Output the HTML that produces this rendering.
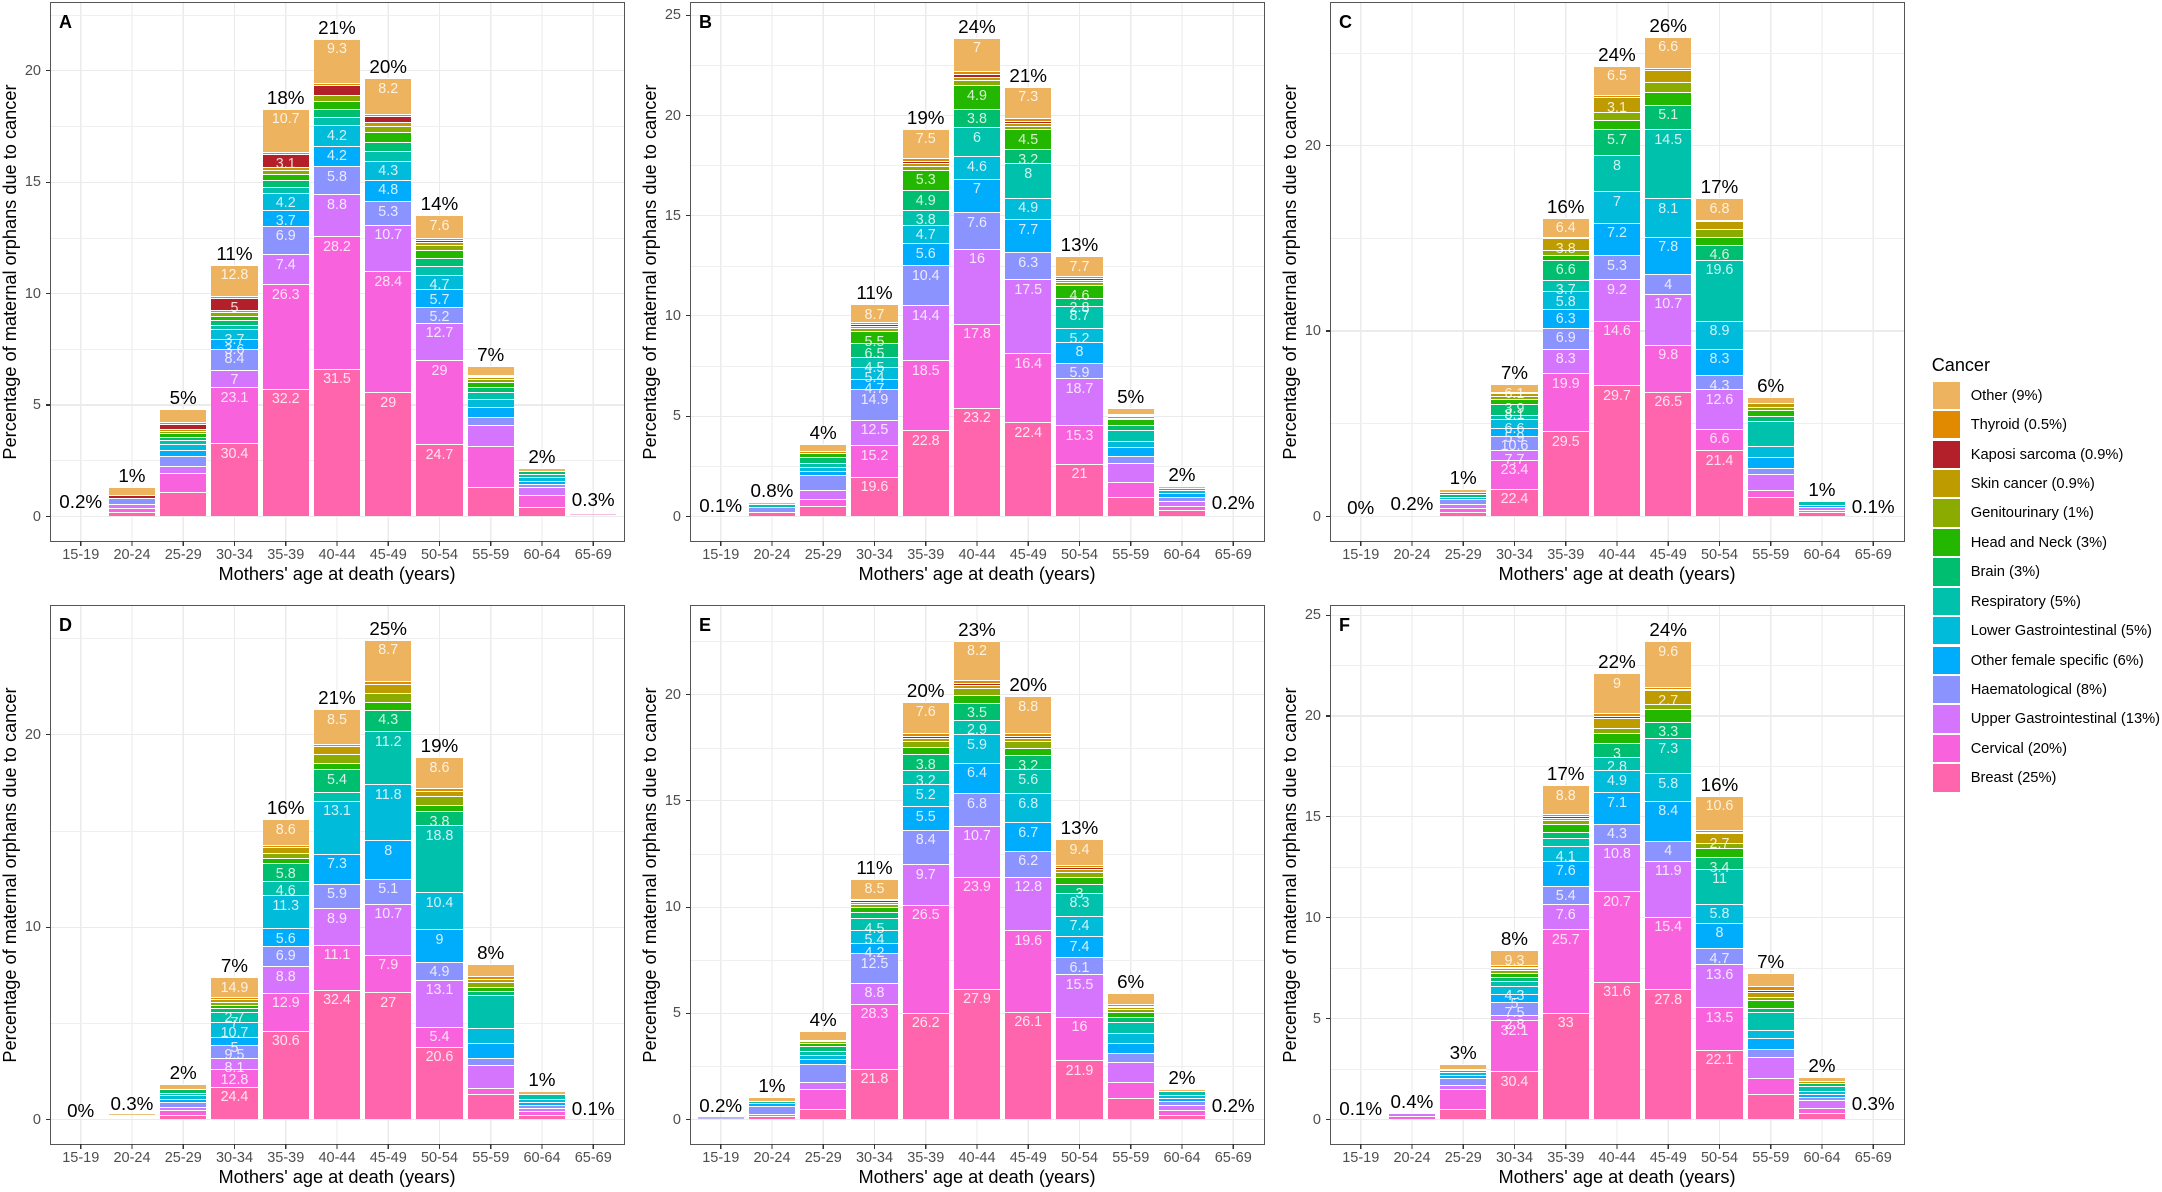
<!DOCTYPE html>
<html><head><meta charset="utf-8">
<style>
html,body{margin:0;padding:0}
body{width:2162px;height:1192px;position:relative;overflow:hidden;background:#fff;font-family:"Liberation Sans",Arial,sans-serif;color:#000}
.pn{position:absolute;width:574px;height:539px}
.pa{position:absolute;left:0;top:0;width:574px;height:539px;overflow:hidden;background:repeating-linear-gradient(90deg,transparent 0,transparent 30.15px,#ebebeb 30.15px,#ebebeb 31.35px,transparent 31.35px,transparent 51.25px)}
.bd{position:absolute;left:-0.5px;top:-0.5px;width:573px;height:538px;border:1px solid #555}
.g{position:absolute;left:0;width:574px;height:1.1px;background:#ebebeb}
.m{height:.6px;background:#efefef}
.tk{position:absolute;left:-4.5px;width:4.5px;height:1.1px;background:#333}
.tl{position:absolute;right:583px;font-size:14.5px;line-height:16px;color:#4d4d4d;text-align:right;white-space:nowrap}
.xk{position:absolute;left:0;top:539px;width:574px;height:4.5px;background:repeating-linear-gradient(90deg,transparent 0,transparent 30.2px,#333 30.2px,#333 31.3px,transparent 31.3px,transparent 51.25px)}
.xl{position:absolute;left:5.125px;top:545.2px;display:flex;font-size:14.5px;line-height:16px;color:#4d4d4d}
.xl span{width:51.25px;text-align:center;flex:none}
.xt{position:absolute;left:0;width:574px;top:562px;text-align:center;font-size:18.2px;line-height:20px;white-space:nowrap}
.yt{position:absolute;left:-310.5px;top:259.5px;width:540px;height:20px;text-align:center;font-size:18.2px;line-height:20px;transform:rotate(-90deg);white-space:nowrap}
.lt{position:absolute;left:9px;top:9.75px;font-weight:bold;font-size:18px;line-height:20px}
.br{position:absolute;bottom:24.6px;width:46.1px;display:flex;flex-direction:column-reverse}
.br i{flex:1 1 0;min-height:0;border-top:1.5px solid #fff;display:flex;justify-content:center;align-items:flex-start;font-style:normal}
.br i.z{flex:0 0 0;border:0}
.br b{font-weight:normal;font-size:14.3px;line-height:16px;margin-top:1.5px;color:rgba(255,255,255,.82);z-index:1;white-space:nowrap}
.br p{position:absolute;bottom:100%;left:-30px;width:106px;margin:0;text-align:center;font-size:18.8px;line-height:22px;color:#000;white-space:nowrap}
.br u{position:absolute;left:0;width:100%;height:1.2px}
.br i:nth-of-type(1){background:#FF65AC}
.br i:nth-of-type(2){background:#F962DD}
.br i:nth-of-type(3){background:#D575FE}
.br i:nth-of-type(4){background:#8B93FF}
.br i:nth-of-type(5){background:#00ACFC}
.br i:nth-of-type(6){background:#00BBDA}
.br i:nth-of-type(7){background:#00C1AB}
.br i:nth-of-type(8){background:#00BE70}
.br i:nth-of-type(9){background:#24B700}
.br i:nth-of-type(10){background:#8CAB00}
.br i:nth-of-type(11){background:#BE9C00}
.br i:nth-of-type(12){background:#B3202A}
.br i:nth-of-type(13){background:#E18A00}
.br i:nth-of-type(14){background:#EDB35E}
.lk{position:absolute;left:1932.7px;width:27.3px;height:27.4px}
.ll{position:absolute;left:1970.7px;font-size:14.7px;line-height:18px;white-space:nowrap}
</style></head><body>

<!-- PANEL A -->
<div class="pn" style="left:50px;top:2px">
<div class="pa">
<div class="g m" style="top:458.4px"></div><div class="g m" style="top:347px"></div><div class="g m" style="top:235.6px"></div><div class="g m" style="top:124.2px"></div><div class="g m" style="top:12.8px"></div>
<div class="g" style="top:513.85px"></div><div class="g" style="top:402.45px"></div><div class="g" style="top:291.05px"></div><div class="g" style="top:179.65px"></div><div class="g" style="top:68.25px"></div>
<div class="br" style="left:7.7px;height:0"><p style="bottom:3px">0.2%</p></div>
<div class="br" style="left:58.95px;height:29px"><p>1%</p><i style="flex:15"></i><i style="flex:12"></i><i style="flex:14"></i><i style="flex:20"></i><i class="z"></i><i class="z"></i><i class="z"></i><i class="z"></i><i class="z"></i><i class="z"></i><i class="z"></i><i style="flex:8"></i><i class="z"></i><i style="flex:30"></i></div>
<div class="br" style="left:110.2px;height:107.2px"><p>5%</p><i style="flex:25"></i><i style="flex:19"></i><i style="flex:7"></i><i style="flex:10"></i><i style="flex:5"></i><i style="flex:5"></i><i style="flex:3"></i><i style="flex:3"></i><i style="flex:2.5"></i><i style="flex:1.5"></i><i style="flex:0.5"></i><i style="flex:5"></i><i style="flex:0.5"></i><i style="flex:13"></i></div>
<div class="br" style="left:161.45px;height:251.8px"><p>11%</p><i style="flex:30.4"><b>30.4</b></i><i style="flex:23.1"><b>23.1</b></i><i style="flex:7"><b>7</b></i><i style="flex:8.4"><b>8.4</b></i><i style="flex:3.6"><b>3.6</b></i><i style="flex:3.7"><b>3.7</b></i><i style="flex:1.5"></i><i style="flex:1.5"></i><i style="flex:1.5"></i><i style="flex:1"></i><i style="flex:0.3"></i><i style="flex:5"><b>5</b></i><i style="flex:0.2"></i><i style="flex:12.8"><b>12.8</b></i></div>
<div class="br" style="left:212.7px;height:407.5px"><p>18%</p><i style="flex:32.2"><b>32.2</b></i><i style="flex:26.3"><b>26.3</b></i><i style="flex:7.4"><b>7.4</b></i><i style="flex:6.9"><b>6.9</b></i><i style="flex:3.7"><b>3.7</b></i><i style="flex:4.2"><b>4.2</b></i><i style="flex:1.2"></i><i style="flex:1.5"></i><i style="flex:1.3"></i><i style="flex:0.8"></i><i style="flex:0.5"></i><i style="flex:3.1"><b>3.1</b></i><i style="flex:0.2"></i><i style="flex:10.7"><b>10.7</b></i></div>
<div class="br" style="left:263.95px;height:477.9px"><p>21%</p><i style="flex:31.5"><b>31.5</b></i><i style="flex:28.2"><b>28.2</b></i><i style="flex:8.8"><b>8.8</b></i><i style="flex:5.8"><b>5.8</b></i><i style="flex:4.2"><b>4.2</b></i><i style="flex:4.2"><b>4.2</b></i><i style="flex:1.5"></i><i style="flex:1.5"></i><i style="flex:1.5"></i><i style="flex:1.2"></i><i class="z"></i><i style="flex:1.8"></i><i style="flex:0.3"></i><i style="flex:9.3"><b>9.3</b></i></div>
<div class="br" style="left:315.2px;height:438px"><p>20%</p><i style="flex:29"><b>29</b></i><i style="flex:28.4"><b>28.4</b></i><i style="flex:10.7"><b>10.7</b></i><i style="flex:5.3"><b>5.3</b></i><i style="flex:4.8"><b>4.8</b></i><i style="flex:4.3"><b>4.3</b></i><i style="flex:2"></i><i style="flex:1.8"></i><i style="flex:2.2"></i><i style="flex:1.2"></i><i style="flex:0.8"></i><i style="flex:1"></i><i style="flex:0.3"></i><i style="flex:8.2"><b>8.2</b></i></div>
<div class="br" style="left:366.45px;height:301.4px"><p>14%</p><i style="flex:24.7"><b>24.7</b></i><i style="flex:29"><b>29</b></i><i style="flex:12.7"><b>12.7</b></i><i style="flex:5.2"><b>5.2</b></i><i style="flex:5.7"><b>5.7</b></i><i style="flex:4.7"><b>4.7</b></i><i style="flex:2.6"></i><i style="flex:2.4"></i><i style="flex:2.5"></i><i style="flex:1.6"></i><i style="flex:0.7"></i><i style="flex:0.3"></i><i style="flex:0.3"></i><i style="flex:7.6"><b>7.6</b></i></div>
<div class="br" style="left:417.7px;height:150.8px"><p>7%</p><i style="flex:21"></i><i style="flex:29"></i><i style="flex:14.5"></i><i style="flex:5"></i><i style="flex:7"></i><i style="flex:5"></i><i style="flex:4"></i><i style="flex:3"></i><i style="flex:3"></i><i style="flex:1.5"></i><i style="flex:0.5"></i><i style="flex:0.3"></i><i style="flex:0.2"></i><i style="flex:6"></i></div>
<div class="br" style="left:468.95px;height:48.6px"><p>2%</p><i style="flex:19"></i><i style="flex:26"></i><i style="flex:15"></i><i style="flex:6"></i><i style="flex:5"></i><i style="flex:5"></i><i style="flex:6"></i><i style="flex:4"></i><i class="z"></i><i class="z"></i><i class="z"></i><i class="z"></i><i class="z"></i><i style="flex:5"></i></div>
<div class="br" style="left:520.2px;height:0"><p style="bottom:5.6px">0.3%</p><u style="bottom:1.5px;background:#f5bfe0"></u></div>
</div>
<div class="bd"></div>
<div class="lt">A</div>
<div class="tk" style="top:513.85px"></div><div class="tk" style="top:402.45px"></div><div class="tk" style="top:291.05px"></div><div class="tk" style="top:179.65px"></div><div class="tk" style="top:68.25px"></div>
<div class="tl" style="top:506.6px">0</div><div class="tl" style="top:395.2px">5</div><div class="tl" style="top:283.8px">10</div><div class="tl" style="top:172.4px">15</div><div class="tl" style="top:61px">20</div>
<div class="xk"></div>
<div class="xl"><span>15-19</span><span>20-24</span><span>25-29</span><span>30-34</span><span>35-39</span><span>40-44</span><span>45-49</span><span>50-54</span><span>55-59</span><span>60-64</span><span>65-69</span></div>
<div class="xt">Mothers' age at death (years)</div>
<div class="yt">Percentage of maternal orphans due to cancer</div>
</div>

<!-- PANEL B -->
<div class="pn" style="left:690px;top:2px">
<div class="pa">
<div class="g m" style="top:464px"></div><div class="g m" style="top:363.7px"></div><div class="g m" style="top:263.5px"></div><div class="g m" style="top:163.2px"></div><div class="g m" style="top:63px"></div>
<div class="g" style="top:513.85px"></div><div class="g" style="top:413.6px"></div><div class="g" style="top:313.35px"></div><div class="g" style="top:213.1px"></div><div class="g" style="top:112.85px"></div><div class="g" style="top:12.6px"></div>
<div class="br" style="left:7.7px;height:0"><p style="bottom:-0.8px">0.1%</p></div>
<div class="br" style="left:58.95px;height:14.7px"><p>0.8%</p><i style="flex:30"></i><i class="z"></i><i class="z"></i><i style="flex:40"></i><i class="z"></i><i class="z"></i><i style="flex:15"></i><i class="z"></i><i class="z"></i><i class="z"></i><i class="z"></i><i class="z"></i><i class="z"></i><i style="flex:15"></i></div>
<div class="br" style="left:110.2px;height:72.3px"><p>4%</p><i style="flex:14"></i><i style="flex:10"></i><i style="flex:13"></i><i style="flex:22"></i><i style="flex:4"></i><i style="flex:5"></i><i style="flex:5"></i><i style="flex:8"></i><i style="flex:5"></i><i class="z"></i><i class="z"></i><i class="z"></i><i style="flex:1"></i><i style="flex:9"></i></div>
<div class="br" style="left:161.45px;height:212.3px"><p>11%</p><i style="flex:19.6"><b>19.6</b></i><i style="flex:15.2"><b>15.2</b></i><i style="flex:12.5"><b>12.5</b></i><i style="flex:14.9"><b>14.9</b></i><i style="flex:4.7"><b>4.7</b></i><i style="flex:5.4"><b>5.4</b></i><i style="flex:4.5"><b>4.5</b></i><i style="flex:6.5"><b>6.5</b></i><i style="flex:5.5"><b>5.5</b></i><i style="flex:1"></i><i style="flex:0.5"></i><i style="flex:0.5"></i><i style="flex:0.5"></i><i style="flex:8.7"><b>8.7</b></i></div>
<div class="br" style="left:212.7px;height:387.7px"><p>19%</p><i style="flex:22.8"><b>22.8</b></i><i style="flex:18.5"><b>18.5</b></i><i style="flex:14.4"><b>14.4</b></i><i style="flex:10.4"><b>10.4</b></i><i style="flex:5.6"><b>5.6</b></i><i style="flex:4.7"><b>4.7</b></i><i style="flex:3.8"><b>3.8</b></i><i style="flex:4.9"><b>4.9</b></i><i style="flex:5.3"><b>5.3</b></i><i style="flex:0.7"></i><i style="flex:0.6"></i><i style="flex:0.3"></i><i style="flex:0.5"></i><i style="flex:7.5"><b>7.5</b></i></div>
<div class="br" style="left:263.95px;height:478.7px"><p>24%</p><i style="flex:23.2"><b>23.2</b></i><i style="flex:17.8"><b>17.8</b></i><i style="flex:16"><b>16</b></i><i style="flex:7.6"><b>7.6</b></i><i style="flex:7"><b>7</b></i><i style="flex:4.6"><b>4.6</b></i><i style="flex:6"><b>6</b></i><i style="flex:3.8"><b>3.8</b></i><i style="flex:4.9"><b>4.9</b></i><i style="flex:0.8"></i><i style="flex:0.6"></i><i style="flex:0.3"></i><i style="flex:0.4"></i><i style="flex:7"><b>7</b></i></div>
<div class="br" style="left:315.2px;height:429.8px"><p>21%</p><i style="flex:22.4"><b>22.4</b></i><i style="flex:16.4"><b>16.4</b></i><i style="flex:17.5"><b>17.5</b></i><i style="flex:6.3"><b>6.3</b></i><i style="flex:7.7"><b>7.7</b></i><i style="flex:4.9"><b>4.9</b></i><i style="flex:8"><b>8</b></i><i style="flex:3.2"><b>3.2</b></i><i style="flex:4.5"><b>4.5</b></i><i style="flex:0.6"></i><i style="flex:0.5"></i><i style="flex:0.3"></i><i style="flex:0.4"></i><i style="flex:7.3"><b>7.3</b></i></div>
<div class="br" style="left:366.45px;height:260.1px"><p>13%</p><i style="flex:21"><b>21</b></i><i style="flex:15.3"><b>15.3</b></i><i style="flex:18.7"><b>18.7</b></i><i style="flex:5.9"><b>5.9</b></i><i style="flex:8"><b>8</b></i><i style="flex:5.2"><b>5.2</b></i><i style="flex:8.7"><b>8.7</b></i><i style="flex:2.8"><b>2.8</b></i><i style="flex:4.6"><b>4.6</b></i><i style="flex:0.8"></i><i style="flex:0.5"></i><i style="flex:0.3"></i><i style="flex:0.5"></i><i style="flex:7.7"><b>7.7</b></i></div>
<div class="br" style="left:417.7px;height:108px"><p>5%</p><i style="flex:20"></i><i style="flex:15"></i><i style="flex:19"></i><i style="flex:6"></i><i style="flex:9"></i><i style="flex:5"></i><i style="flex:10.5"></i><i style="flex:4"></i><i style="flex:5.5"></i><i style="flex:0.4"></i><i style="flex:0.3"></i><i style="flex:0.1"></i><i style="flex:0.2"></i><i style="flex:5"></i></div>
<div class="br" style="left:468.95px;height:30.9px"><p>2%</p><i style="flex:20"></i><i style="flex:12"></i><i style="flex:18"></i><i style="flex:12"></i><i style="flex:10"></i><i style="flex:8"></i><i style="flex:6"></i><i class="z"></i><i class="z"></i><i class="z"></i><i class="z"></i><i class="z"></i><i class="z"></i><i style="flex:4"></i></div>
<div class="br" style="left:520.2px;height:0"><p style="bottom:2.6px">0.2%</p></div>
</div>
<div class="bd"></div>
<div class="lt">B</div>
<div class="tk" style="top:513.85px"></div><div class="tk" style="top:413.6px"></div><div class="tk" style="top:313.35px"></div><div class="tk" style="top:213.1px"></div><div class="tk" style="top:112.85px"></div><div class="tk" style="top:12.6px"></div>
<div class="tl" style="top:506.6px">0</div><div class="tl" style="top:406.35px">5</div><div class="tl" style="top:306.1px">10</div><div class="tl" style="top:205.85px">15</div><div class="tl" style="top:105.6px">20</div><div class="tl" style="top:5.35px">25</div>
<div class="xk"></div>
<div class="xl"><span>15-19</span><span>20-24</span><span>25-29</span><span>30-34</span><span>35-39</span><span>40-44</span><span>45-49</span><span>50-54</span><span>55-59</span><span>60-64</span><span>65-69</span></div>
<div class="xt">Mothers' age at death (years)</div>
<div class="yt">Percentage of maternal orphans due to cancer</div>
</div>

<!-- PANEL C -->
<div class="pn" style="left:1330px;top:2px">
<div class="pa">
<div class="g m" style="top:421.4px"></div><div class="g m" style="top:236px"></div><div class="g m" style="top:50.6px"></div>
<div class="g" style="top:513.85px"></div><div class="g" style="top:328.45px"></div><div class="g" style="top:143.05px"></div>
<div class="br" style="left:7.7px;height:0"><p style="bottom:-2.7px">0%</p></div>
<div class="br" style="left:58.95px;height:0"><p style="bottom:1.1px">0.2%</p></div>
<div class="br" style="left:110.2px;height:27.1px"><p>1%</p><i style="flex:14"></i><i style="flex:14"></i><i style="flex:12"></i><i style="flex:15"></i><i class="z"></i><i style="flex:6"></i><i class="z"></i><i style="flex:8"></i><i style="flex:5"></i><i class="z"></i><i class="z"></i><i class="z"></i><i class="z"></i><i style="flex:7"></i></div>
<div class="br" style="left:161.45px;height:132.5px"><p>7%</p><i style="flex:22.4"><b>22.4</b></i><i style="flex:23.4"><b>23.4</b></i><i style="flex:7.7"><b>7.7</b></i><i style="flex:10.6"><b>10.6</b></i><i style="flex:5.9"><b>5.9</b></i><i style="flex:6.6"><b>6.6</b></i><i style="flex:2.5"></i><i style="flex:8.1"><b>8.1</b></i><i style="flex:3.9"><b>3.9</b></i><i style="flex:1"></i><i style="flex:1.8"></i><i class="z"></i><i style="flex:0.1"></i><i style="flex:6.1"><b>6.1</b></i></div>
<div class="br" style="left:212.7px;height:298.8px"><p>16%</p><i style="flex:29.5"><b>29.5</b></i><i style="flex:19.9"><b>19.9</b></i><i style="flex:8.3"><b>8.3</b></i><i style="flex:6.9"><b>6.9</b></i><i style="flex:6.3"><b>6.3</b></i><i style="flex:5.8"><b>5.8</b></i><i style="flex:3.7"><b>3.7</b></i><i style="flex:6.6"><b>6.6</b></i><i style="flex:1.4"></i><i style="flex:1.2"></i><i style="flex:3.8"><b>3.8</b></i><i class="z"></i><i style="flex:0.2"></i><i style="flex:6.4"><b>6.4</b></i></div>
<div class="br" style="left:263.95px;height:450.5px"><p>24%</p><i style="flex:29.7"><b>29.7</b></i><i style="flex:14.6"><b>14.6</b></i><i style="flex:9.2"><b>9.2</b></i><i style="flex:5.3"><b>5.3</b></i><i style="flex:7.2"><b>7.2</b></i><i style="flex:7"><b>7</b></i><i style="flex:8"><b>8</b></i><i style="flex:5.7"><b>5.7</b></i><i style="flex:1.9"></i><i style="flex:1.6"></i><i style="flex:3.1"><b>3.1</b></i><i class="z"></i><i style="flex:0.2"></i><i style="flex:6.5"><b>6.5</b></i></div>
<div class="br" style="left:315.2px;height:479.9px"><p>26%</p><i style="flex:26.5"><b>26.5</b></i><i style="flex:9.8"><b>9.8</b></i><i style="flex:10.7"><b>10.7</b></i><i style="flex:4"><b>4</b></i><i style="flex:7.8"><b>7.8</b></i><i style="flex:8.1"><b>8.1</b></i><i style="flex:14.5"><b>14.5</b></i><i style="flex:5.1"><b>5.1</b></i><i style="flex:2.4"></i><i style="flex:2"></i><i style="flex:2.4"></i><i class="z"></i><i style="flex:0.1"></i><i style="flex:6.6"><b>6.6</b></i></div>
<div class="br" style="left:366.45px;height:318.4px"><p>17%</p><i style="flex:21.4"><b>21.4</b></i><i style="flex:6.6"><b>6.6</b></i><i style="flex:12.6"><b>12.6</b></i><i style="flex:4.3"><b>4.3</b></i><i style="flex:8.3"><b>8.3</b></i><i style="flex:8.9"><b>8.9</b></i><i style="flex:19.6"><b>19.6</b></i><i style="flex:4.6"><b>4.6</b></i><i style="flex:2.4"></i><i style="flex:2.2"></i><i style="flex:2.1"></i><i class="z"></i><i style="flex:0.2"></i><i style="flex:6.8"><b>6.8</b></i></div>
<div class="br" style="left:417.7px;height:119.3px"><p>6%</p><i style="flex:17"></i><i style="flex:5.5"></i><i style="flex:14"></i><i style="flex:5"></i><i style="flex:9"></i><i style="flex:10"></i><i style="flex:22"></i><i style="flex:4"></i><i style="flex:4"></i><i style="flex:2.5"></i><i style="flex:2"></i><i class="z"></i><i class="z"></i><i style="flex:5"></i></div>
<div class="br" style="left:468.95px;height:15.8px"><p>1%</p><i style="flex:20"></i><i style="flex:12"></i><i style="flex:12"></i><i class="z"></i><i style="flex:10"></i><i class="z"></i><i style="flex:20"></i><i class="z"></i><i class="z"></i><i class="z"></i><i class="z"></i><i class="z"></i><i class="z"></i><i class="z"></i></div>
<div class="br" style="left:520.2px;height:0"><p style="bottom:-1.6px">0.1%</p></div>
</div>
<div class="bd"></div>
<div class="lt">C</div>
<div class="tk" style="top:513.85px"></div><div class="tk" style="top:328.45px"></div><div class="tk" style="top:143.05px"></div>
<div class="tl" style="top:506.6px">0</div><div class="tl" style="top:321.2px">10</div><div class="tl" style="top:135.8px">20</div>
<div class="xk"></div>
<div class="xl"><span>15-19</span><span>20-24</span><span>25-29</span><span>30-34</span><span>35-39</span><span>40-44</span><span>45-49</span><span>50-54</span><span>55-59</span><span>60-64</span><span>65-69</span></div>
<div class="xt">Mothers' age at death (years)</div>
<div class="yt">Percentage of maternal orphans due to cancer</div>
</div>

<!-- PANEL D -->
<div class="pn" style="left:50px;top:605px">
<div class="pa">
<div class="g m" style="top:417.95px"></div><div class="g m" style="top:225.65px"></div><div class="g m" style="top:33.35px"></div>
<div class="g" style="top:513.85px"></div><div class="g" style="top:321.55px"></div><div class="g" style="top:129.25px"></div>
<div class="br" style="left:7.7px;height:0"><p style="bottom:-2.3px">0%</p></div>
<div class="br" style="left:58.95px;height:0"><p style="bottom:4.1px">0.3%</p><u style="bottom:4.5px;background:#e9c27e"></u></div>
<div class="br" style="left:110.2px;height:35px"><p>2%</p><i style="flex:13"></i><i style="flex:14"></i><i style="flex:8"></i><i style="flex:14"></i><i style="flex:8"></i><i style="flex:8"></i><i style="flex:6"></i><i style="flex:10"></i><i class="z"></i><i class="z"></i><i class="z"></i><i class="z"></i><i class="z"></i><i style="flex:13"></i></div>
<div class="br" style="left:161.45px;height:142.3px"><p>7%</p><i style="flex:24.4"><b>24.4</b></i><i style="flex:12.8"><b>12.8</b></i><i style="flex:8.1"><b>8.1</b></i><i style="flex:9.5"><b>9.5</b></i><i style="flex:5"><b>5</b></i><i style="flex:10.7"><b>10.7</b></i><i style="flex:7"><b>7</b></i><i style="flex:2.7"><b>2.7</b></i><i style="flex:1.5"></i><i style="flex:1.2"></i><i style="flex:1.7"></i><i class="z"></i><i style="flex:0.5"></i><i style="flex:14.9"><b>14.9</b></i></div>
<div class="br" style="left:212.7px;height:300px"><p>16%</p><i style="flex:30.6"><b>30.6</b></i><i style="flex:12.9"><b>12.9</b></i><i style="flex:8.8"><b>8.8</b></i><i style="flex:6.9"><b>6.9</b></i><i style="flex:5.6"><b>5.6</b></i><i style="flex:11.3"><b>11.3</b></i><i style="flex:4.6"><b>4.6</b></i><i style="flex:5.8"><b>5.8</b></i><i style="flex:1.4"></i><i style="flex:1.3"></i><i style="flex:1.8"></i><i class="z"></i><i style="flex:0.4"></i><i style="flex:8.6"><b>8.6</b></i></div>
<div class="br" style="left:263.95px;height:410.2px"><p>21%</p><i style="flex:32.4"><b>32.4</b></i><i style="flex:11.1"><b>11.1</b></i><i style="flex:8.9"><b>8.9</b></i><i style="flex:5.9"><b>5.9</b></i><i style="flex:7.3"><b>7.3</b></i><i style="flex:13.1"><b>13.1</b></i><i style="flex:2"></i><i style="flex:5.4"><b>5.4</b></i><i style="flex:1.4"></i><i style="flex:2"></i><i style="flex:1.8"></i><i class="z"></i><i style="flex:0.2"></i><i style="flex:8.5"><b>8.5</b></i></div>
<div class="br" style="left:315.2px;height:479.8px"><p>25%</p><i style="flex:27"><b>27</b></i><i style="flex:7.9"><b>7.9</b></i><i style="flex:10.7"><b>10.7</b></i><i style="flex:5.1"><b>5.1</b></i><i style="flex:8"><b>8</b></i><i style="flex:11.8"><b>11.8</b></i><i style="flex:11.2"><b>11.2</b></i><i style="flex:4.3"><b>4.3</b></i><i style="flex:1.5"></i><i style="flex:1.8"></i><i style="flex:1.6"></i><i class="z"></i><i style="flex:0.4"></i><i style="flex:8.7"><b>8.7</b></i></div>
<div class="br" style="left:366.45px;height:362.1px"><p>19%</p><i style="flex:20.6"><b>20.6</b></i><i style="flex:5.4"><b>5.4</b></i><i style="flex:13.1"><b>13.1</b></i><i style="flex:4.9"><b>4.9</b></i><i style="flex:9"><b>9</b></i><i style="flex:10.4"><b>10.4</b></i><i style="flex:18.8"><b>18.8</b></i><i style="flex:3.8"><b>3.8</b></i><i style="flex:1.5"></i><i style="flex:2.2"></i><i style="flex:1.3"></i><i class="z"></i><i style="flex:0.4"></i><i style="flex:8.6"><b>8.6</b></i></div>
<div class="br" style="left:417.7px;height:155.1px"><p>8%</p><i style="flex:17"></i><i style="flex:3.6"></i><i style="flex:15.3"></i><i style="flex:4.6"></i><i style="flex:10"></i><i style="flex:9.5"></i><i style="flex:22.6"></i><i style="flex:2.4"></i><i style="flex:2"></i><i style="flex:2.5"></i><i style="flex:1.5"></i><i class="z"></i><i style="flex:1.2"></i><i style="flex:7.8"></i></div>
<div class="br" style="left:468.95px;height:28.2px"><p>1%</p><i style="flex:14"></i><i style="flex:14"></i><i style="flex:10"></i><i style="flex:8"></i><i style="flex:10"></i><i style="flex:10"></i><i style="flex:20"></i><i class="z"></i><i class="z"></i><i class="z"></i><i class="z"></i><i class="z"></i><i class="z"></i><i style="flex:7"></i></div>
<div class="br" style="left:520.2px;height:0"><p style="bottom:-0.4px">0.1%</p></div>
</div>
<div class="bd"></div>
<div class="lt">D</div>
<div class="tk" style="top:513.85px"></div><div class="tk" style="top:321.55px"></div><div class="tk" style="top:129.25px"></div>
<div class="tl" style="top:506.6px">0</div><div class="tl" style="top:314.3px">10</div><div class="tl" style="top:122px">20</div>
<div class="xk"></div>
<div class="xl"><span>15-19</span><span>20-24</span><span>25-29</span><span>30-34</span><span>35-39</span><span>40-44</span><span>45-49</span><span>50-54</span><span>55-59</span><span>60-64</span><span>65-69</span></div>
<div class="xt">Mothers' age at death (years)</div>
<div class="yt">Percentage of maternal orphans due to cancer</div>
</div>

<!-- PANEL E -->
<div class="pn" style="left:690px;top:605px">
<div class="pa">
<div class="g m" style="top:461px"></div><div class="g m" style="top:354.9px"></div><div class="g m" style="top:248.7px"></div><div class="g m" style="top:142.6px"></div><div class="g m" style="top:36.4px"></div>
<div class="g" style="top:513.85px"></div><div class="g" style="top:407.7px"></div><div class="g" style="top:301.55px"></div><div class="g" style="top:195.4px"></div><div class="g" style="top:89.25px"></div>
<div class="br" style="left:7.7px;height:0"><p style="bottom:2.2px">0.2%</p><u style="bottom:0.8px;background:#b8b6f7"></u></div>
<div class="br" style="left:58.95px;height:22.6px"><p>1%</p><i style="flex:12"></i><i style="flex:5"></i><i class="z"></i><i style="flex:28"></i><i style="flex:8"></i><i class="z"></i><i style="flex:7"></i><i class="z"></i><i class="z"></i><i class="z"></i><i class="z"></i><i class="z"></i><i class="z"></i><i style="flex:13"></i></div>
<div class="br" style="left:110.2px;height:88.4px"><p>4%</p><i style="flex:12.8"></i><i style="flex:24"></i><i style="flex:8"></i><i style="flex:22.5"></i><i style="flex:5"></i><i style="flex:4"></i><i style="flex:3.4"></i><i style="flex:6"></i><i style="flex:2"></i><i style="flex:1.5"></i><i style="flex:0.5"></i><i class="z"></i><i class="z"></i><i style="flex:9.8"></i></div>
<div class="br" style="left:161.45px;height:240.9px"><p>11%</p><i style="flex:21.8"><b>21.8</b></i><i style="flex:28.3"><b>28.3</b></i><i style="flex:8.8"><b>8.8</b></i><i style="flex:12.5"><b>12.5</b></i><i style="flex:4.2"><b>4.2</b></i><i style="flex:5.4"><b>5.4</b></i><i style="flex:4.5"><b>4.5</b></i><i style="flex:2.5"></i><i style="flex:1.5"></i><i style="flex:1"></i><i style="flex:0.6"></i><i style="flex:0.2"></i><i style="flex:0.2"></i><i style="flex:8.5"><b>8.5</b></i></div>
<div class="br" style="left:212.7px;height:417.8px"><p>20%</p><i style="flex:26.2"><b>26.2</b></i><i style="flex:26.5"><b>26.5</b></i><i style="flex:9.7"><b>9.7</b></i><i style="flex:8.4"><b>8.4</b></i><i style="flex:5.5"><b>5.5</b></i><i style="flex:5.2"><b>5.2</b></i><i style="flex:3.2"><b>3.2</b></i><i style="flex:3.8"><b>3.8</b></i><i style="flex:1.5"></i><i style="flex:1.2"></i><i style="flex:0.6"></i><i style="flex:0.2"></i><i style="flex:0.4"></i><i style="flex:7.6"><b>7.6</b></i></div>
<div class="br" style="left:263.95px;height:478.7px"><p>23%</p><i style="flex:27.9"><b>27.9</b></i><i style="flex:23.9"><b>23.9</b></i><i style="flex:10.7"><b>10.7</b></i><i style="flex:6.8"><b>6.8</b></i><i style="flex:6.4"><b>6.4</b></i><i style="flex:5.9"><b>5.9</b></i><i style="flex:2.9"><b>2.9</b></i><i style="flex:3.5"><b>3.5</b></i><i style="flex:1.5"></i><i style="flex:1.2"></i><i style="flex:0.5"></i><i style="flex:0.2"></i><i style="flex:0.4"></i><i style="flex:8.2"><b>8.2</b></i></div>
<div class="br" style="left:315.2px;height:423.4px"><p>20%</p><i style="flex:26.1"><b>26.1</b></i><i style="flex:19.6"><b>19.6</b></i><i style="flex:12.8"><b>12.8</b></i><i style="flex:6.2"><b>6.2</b></i><i style="flex:6.7"><b>6.7</b></i><i style="flex:6.8"><b>6.8</b></i><i style="flex:5.6"><b>5.6</b></i><i style="flex:3.2"><b>3.2</b></i><i style="flex:1.6"></i><i style="flex:1.4"></i><i style="flex:0.6"></i><i style="flex:0.2"></i><i style="flex:0.4"></i><i style="flex:8.8"><b>8.8</b></i></div>
<div class="br" style="left:366.45px;height:280px"><p>13%</p><i style="flex:21.9"><b>21.9</b></i><i style="flex:16"><b>16</b></i><i style="flex:15.5"><b>15.5</b></i><i style="flex:6.1"><b>6.1</b></i><i style="flex:7.4"><b>7.4</b></i><i style="flex:7.4"><b>7.4</b></i><i style="flex:8.3"><b>8.3</b></i><i style="flex:3"><b>3</b></i><i style="flex:2"></i><i style="flex:1.8"></i><i style="flex:0.6"></i><i style="flex:0.2"></i><i style="flex:0.4"></i><i style="flex:9.4"><b>9.4</b></i></div>
<div class="br" style="left:417.7px;height:126.1px"><p>6%</p><i style="flex:18"></i><i style="flex:13.4"></i><i style="flex:17"></i><i style="flex:7"></i><i style="flex:8"></i><i style="flex:8.4"></i><i style="flex:9"></i><i style="flex:3.6"></i><i style="flex:3"></i><i style="flex:2"></i><i style="flex:0.8"></i><i style="flex:0.3"></i><i style="flex:0.5"></i><i style="flex:9"></i></div>
<div class="br" style="left:468.95px;height:30.9px"><p>2%</p><i style="flex:15"></i><i style="flex:14"></i><i style="flex:17"></i><i style="flex:10"></i><i style="flex:8"></i><i style="flex:8"></i><i style="flex:12"></i><i class="z"></i><i class="z"></i><i class="z"></i><i class="z"></i><i class="z"></i><i class="z"></i><i style="flex:5"></i></div>
<div class="br" style="left:520.2px;height:0"><p style="bottom:2.2px">0.2%</p></div>
</div>
<div class="bd"></div>
<div class="lt">E</div>
<div class="tk" style="top:513.85px"></div><div class="tk" style="top:407.7px"></div><div class="tk" style="top:301.55px"></div><div class="tk" style="top:195.4px"></div><div class="tk" style="top:89.25px"></div>
<div class="tl" style="top:506.6px">0</div><div class="tl" style="top:400.45px">5</div><div class="tl" style="top:294.3px">10</div><div class="tl" style="top:188.15px">15</div><div class="tl" style="top:82px">20</div>
<div class="xk"></div>
<div class="xl"><span>15-19</span><span>20-24</span><span>25-29</span><span>30-34</span><span>35-39</span><span>40-44</span><span>45-49</span><span>50-54</span><span>55-59</span><span>60-64</span><span>65-69</span></div>
<div class="xt">Mothers' age at death (years)</div>
<div class="yt">Percentage of maternal orphans due to cancer</div>
</div>

<!-- PANEL F -->
<div class="pn" style="left:1330px;top:605px">
<div class="pa">
<div class="g m" style="top:463.7px"></div><div class="g m" style="top:362.8px"></div><div class="g m" style="top:262px"></div><div class="g m" style="top:161.1px"></div><div class="g m" style="top:60.3px"></div>
<div class="g" style="top:513.85px"></div><div class="g" style="top:413px"></div><div class="g" style="top:312.15px"></div><div class="g" style="top:211.3px"></div><div class="g" style="top:110.45px"></div><div class="g" style="top:9.6px"></div>
<div class="br" style="left:7.7px;height:0"><p style="bottom:-0.8px">0.1%</p></div>
<div class="br" style="left:58.95px;height:6.8px"><p>0.4%</p><i class="z"></i><i style="flex:55"></i><i style="flex:45"></i><i class="z"></i><i class="z"></i><i class="z"></i><i class="z"></i><i class="z"></i><i class="z"></i><i class="z"></i><i class="z"></i><i class="z"></i><i class="z"></i><i class="z"></i></div>
<div class="br" style="left:110.2px;height:55.7px"><p>3%</p><i style="flex:19"></i><i style="flex:42"></i><i style="flex:5"></i><i style="flex:14"></i><i style="flex:3"></i><i style="flex:5"></i><i style="flex:1"></i><i style="flex:1"></i><i class="z"></i><i class="z"></i><i class="z"></i><i class="z"></i><i class="z"></i><i style="flex:9"></i></div>
<div class="br" style="left:161.45px;height:169.4px"><p>8%</p><i style="flex:30.4"><b>30.4</b></i><i style="flex:32.1"><b>32.1</b></i><i style="flex:2.8"><b>2.8</b></i><i style="flex:7.5"><b>7.5</b></i><i style="flex:5"><b>5</b></i><i style="flex:4.3"><b>4.3</b></i><i style="flex:2.2"></i><i style="flex:2.2"></i><i style="flex:2"></i><i style="flex:1"></i><i style="flex:0.6"></i><i style="flex:0.1"></i><i style="flex:0.5"></i><i style="flex:9.3"><b>9.3</b></i></div>
<div class="br" style="left:212.7px;height:334.2px"><p>17%</p><i style="flex:33"><b>33</b></i><i style="flex:25.7"><b>25.7</b></i><i style="flex:7.6"><b>7.6</b></i><i style="flex:5.4"><b>5.4</b></i><i style="flex:7.6"><b>7.6</b></i><i style="flex:4.1"><b>4.1</b></i><i style="flex:2.4"></i><i style="flex:1.6"></i><i style="flex:2.2"></i><i style="flex:0.8"></i><i style="flex:0.4"></i><i style="flex:0.1"></i><i style="flex:0.3"></i><i style="flex:8.8"><b>8.8</b></i></div>
<div class="br" style="left:263.95px;height:446.4px"><p>22%</p><i style="flex:31.6"><b>31.6</b></i><i style="flex:20.7"><b>20.7</b></i><i style="flex:10.8"><b>10.8</b></i><i style="flex:4.3"><b>4.3</b></i><i style="flex:7.1"><b>7.1</b></i><i style="flex:4.9"><b>4.9</b></i><i style="flex:2.8"><b>2.8</b></i><i style="flex:3"><b>3</b></i><i style="flex:2"></i><i style="flex:1"></i><i style="flex:2.2"></i><i style="flex:0.2"></i><i style="flex:0.4"></i><i style="flex:9"><b>9</b></i></div>
<div class="br" style="left:315.2px;height:478.4px"><p>24%</p><i style="flex:27.8"><b>27.8</b></i><i style="flex:15.4"><b>15.4</b></i><i style="flex:11.9"><b>11.9</b></i><i style="flex:4"><b>4</b></i><i style="flex:8.4"><b>8.4</b></i><i style="flex:5.8"><b>5.8</b></i><i style="flex:7.3"><b>7.3</b></i><i style="flex:3.3"><b>3.3</b></i><i style="flex:2.5"></i><i style="flex:0.9"></i><i style="flex:2.7"><b>2.7</b></i><i style="flex:0.1"></i><i style="flex:0.3"></i><i style="flex:9.6"><b>9.6</b></i></div>
<div class="br" style="left:366.45px;height:323.7px"><p>16%</p><i style="flex:22.1"><b>22.1</b></i><i style="flex:13.5"><b>13.5</b></i><i style="flex:13.6"><b>13.6</b></i><i style="flex:4.7"><b>4.7</b></i><i style="flex:8"><b>8</b></i><i style="flex:5.8"><b>5.8</b></i><i style="flex:11"><b>11</b></i><i style="flex:3.4"><b>3.4</b></i><i style="flex:2.5"></i><i style="flex:1.5"></i><i style="flex:2.7"><b>2.7</b></i><i style="flex:0.1"></i><i style="flex:0.5"></i><i style="flex:10.6"><b>10.6</b></i></div>
<div class="br" style="left:417.7px;height:146px"><p>7%</p><i style="flex:18.5"></i><i style="flex:11"></i><i style="flex:15.5"></i><i style="flex:5"></i><i style="flex:7.7"></i><i style="flex:5.7"></i><i style="flex:12.4"></i><i style="flex:2.6"></i><i style="flex:5"></i><i style="flex:1.8"></i><i style="flex:3.3"></i><i style="flex:0.5"></i><i style="flex:2.5"></i><i style="flex:8.5"></i></div>
<div class="br" style="left:468.95px;height:42.1px"><p>2%</p><i style="flex:16"></i><i style="flex:11"></i><i style="flex:18"></i><i style="flex:6"></i><i style="flex:6"></i><i style="flex:6"></i><i style="flex:10"></i><i style="flex:6"></i><i class="z"></i><i class="z"></i><i style="flex:4"></i><i class="z"></i><i class="z"></i><i style="flex:7"></i></div>
<div class="br" style="left:520.2px;height:0"><p style="bottom:4.1px">0.3%</p></div>
</div>
<div class="bd"></div>
<div class="lt">F</div>
<div class="tk" style="top:513.85px"></div><div class="tk" style="top:413px"></div><div class="tk" style="top:312.15px"></div><div class="tk" style="top:211.3px"></div><div class="tk" style="top:110.45px"></div><div class="tk" style="top:9.6px"></div>
<div class="tl" style="top:506.6px">0</div><div class="tl" style="top:405.75px">5</div><div class="tl" style="top:304.9px">10</div><div class="tl" style="top:204.05px">15</div><div class="tl" style="top:103.2px">20</div><div class="tl" style="top:2.35px">25</div>
<div class="xk"></div>
<div class="xl"><span>15-19</span><span>20-24</span><span>25-29</span><span>30-34</span><span>35-39</span><span>40-44</span><span>45-49</span><span>50-54</span><span>55-59</span><span>60-64</span><span>65-69</span></div>
<div class="xt">Mothers' age at death (years)</div>
<div class="yt">Percentage of maternal orphans due to cancer</div>
</div>

<!-- LEGEND -->
<div style="position:absolute;left:1931.7px;top:354.2px;font-size:18.1px;line-height:22px;white-space:nowrap">Cancer</div>
<div class="lk" style="top:381.7px;background:#EDB35E"></div><div class="ll" style="top:386.6px">Other (9%)</div>
<div class="lk" style="top:411.1px;background:#E18A00"></div><div class="ll" style="top:416px">Thyroid (0.5%)</div>
<div class="lk" style="top:440.6px;background:#B3202A"></div><div class="ll" style="top:445.5px">Kaposi sarcoma (0.9%)</div>
<div class="lk" style="top:470px;background:#BE9C00"></div><div class="ll" style="top:474.9px">Skin cancer (0.9%)</div>
<div class="lk" style="top:499.4px;background:#8CAB00"></div><div class="ll" style="top:504.3px">Genitourinary (1%)</div>
<div class="lk" style="top:528.9px;background:#24B700"></div><div class="ll" style="top:533.8px">Head and Neck (3%)</div>
<div class="lk" style="top:558.3px;background:#00BE70"></div><div class="ll" style="top:563.2px">Brain (3%)</div>
<div class="lk" style="top:587.7px;background:#00C1AB"></div><div class="ll" style="top:592.6px">Respiratory (5%)</div>
<div class="lk" style="top:617.1px;background:#00BBDA"></div><div class="ll" style="top:622px">Lower Gastrointestinal (5%)</div>
<div class="lk" style="top:646.6px;background:#00ACFC"></div><div class="ll" style="top:651.5px">Other female specific (6%)</div>
<div class="lk" style="top:676px;background:#8B93FF"></div><div class="ll" style="top:680.9px">Haematological (8%)</div>
<div class="lk" style="top:705.4px;background:#D575FE"></div><div class="ll" style="top:710.3px">Upper Gastrointestinal (13%)</div>
<div class="lk" style="top:734.9px;background:#F962DD"></div><div class="ll" style="top:739.8px">Cervical (20%)</div>
<div class="lk" style="top:764.3px;background:#FF65AC"></div><div class="ll" style="top:769.2px">Breast (25%)</div>

</body></html>
